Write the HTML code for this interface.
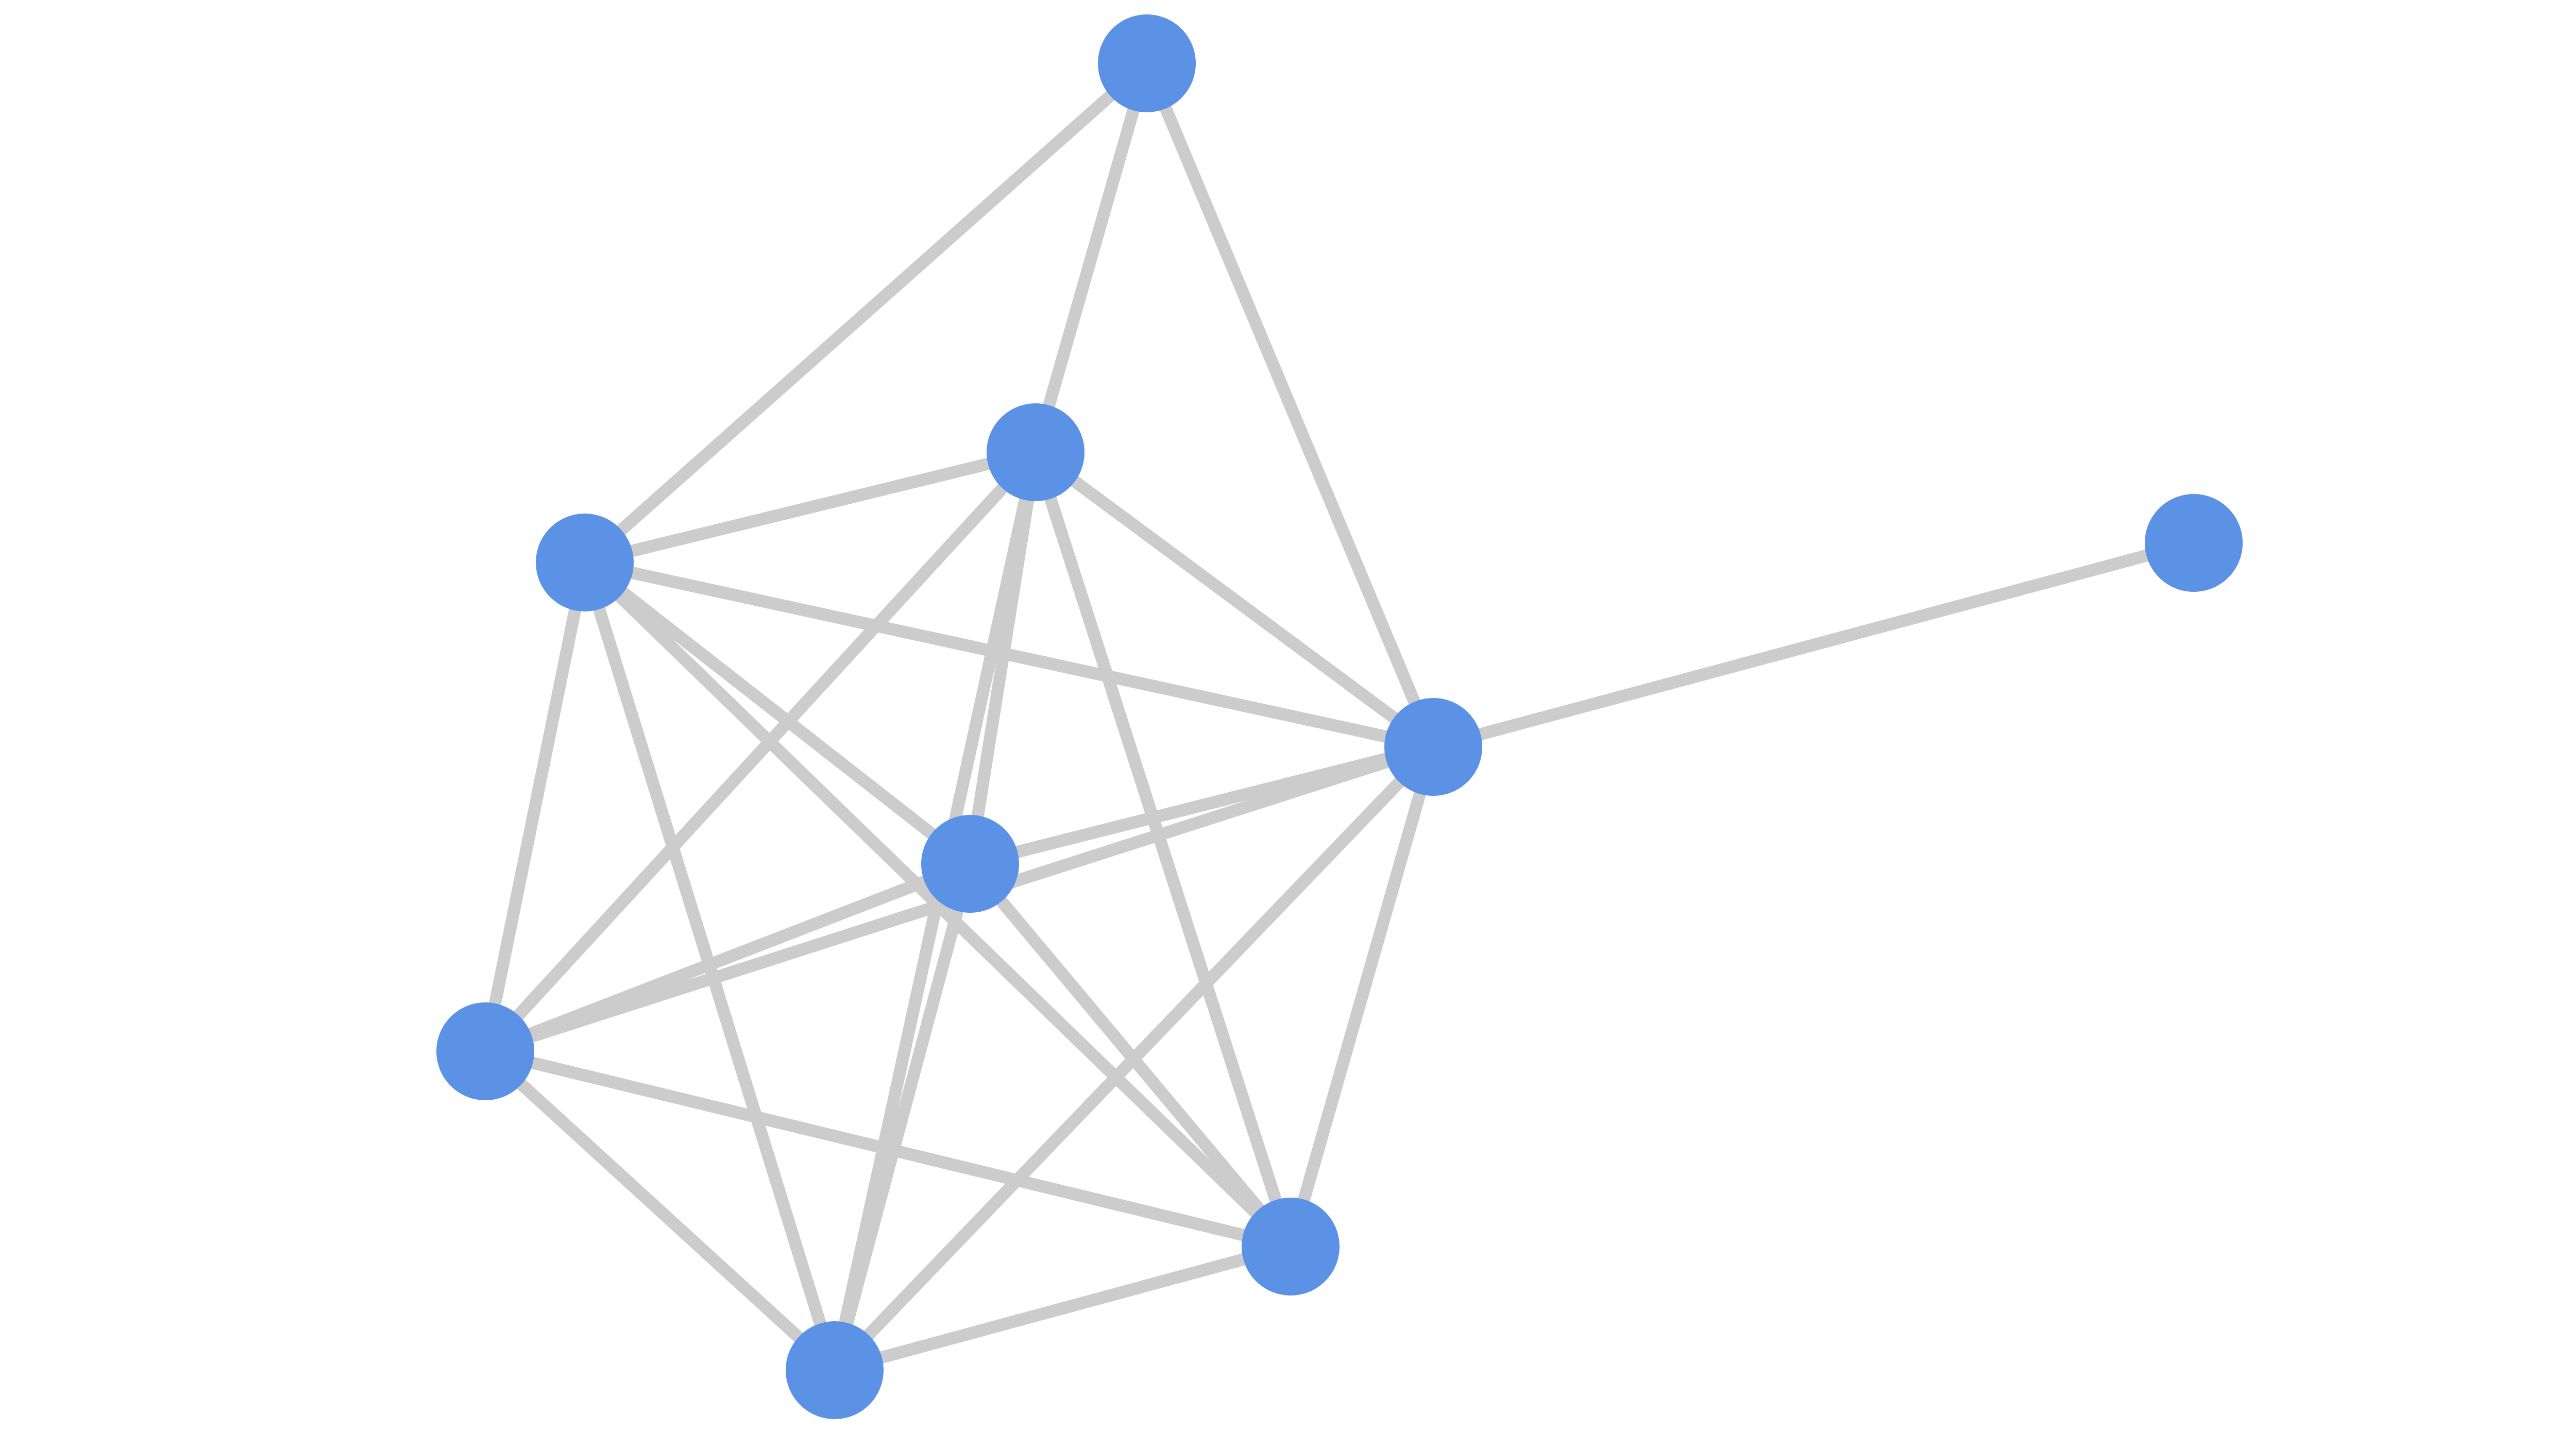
<!DOCTYPE html>
<html><head><style>html,body{margin:0;padding:0;background:#fff;width:5200px;height:2780px;overflow:hidden}</style></head>
<body>
<svg width="5200" height="2780" viewBox="0 0 5200 2780" xmlns="http://www.w3.org/2000/svg">
<g stroke="#cccccc" stroke-width="24" fill="none">
<line x1="2226" y1="123" x2="1135" y2="1092"/>
<line x1="2226" y1="123" x2="2010" y2="878"/>
<line x1="2226" y1="123" x2="2782" y2="1450"/>
<line x1="4258" y1="1054" x2="2782" y2="1450"/>
<line x1="2010" y1="878" x2="1135" y2="1092"/>
<line x1="2010" y1="878" x2="2782" y2="1450"/>
<line x1="2010" y1="878" x2="942" y2="2041"/>
<line x1="2010" y1="878" x2="1883" y2="1677"/>
<line x1="2010" y1="878" x2="1620" y2="2660"/>
<line x1="2010" y1="878" x2="2505" y2="2420"/>
<line x1="1135" y1="1092" x2="2782" y2="1450"/>
<line x1="1135" y1="1092" x2="1883" y2="1677"/>
<line x1="1135" y1="1092" x2="2505" y2="2420"/>
<line x1="1135" y1="1092" x2="942" y2="2041"/>
<line x1="1135" y1="1092" x2="1620" y2="2660"/>
<line x1="2782" y1="1450" x2="1883" y2="1677"/>
<line x1="2782" y1="1450" x2="942" y2="2041"/>
<line x1="2782" y1="1450" x2="2505" y2="2420"/>
<line x1="2782" y1="1450" x2="1620" y2="2660"/>
<line x1="1883" y1="1677" x2="942" y2="2041"/>
<line x1="1883" y1="1677" x2="2505" y2="2420"/>
<line x1="1883" y1="1677" x2="1620" y2="2660"/>
<line x1="942" y1="2041" x2="2505" y2="2420"/>
<line x1="942" y1="2041" x2="1620" y2="2660"/>
<line x1="2505" y1="2420" x2="1620" y2="2660"/>
</g>
<g fill="#5b92e5">
<circle cx="2226" cy="123" r="95"/>
<circle cx="2010" cy="878" r="95"/>
<circle cx="1135" cy="1092" r="95"/>
<circle cx="4258" cy="1054" r="95"/>
<circle cx="2782" cy="1450" r="95"/>
<circle cx="1883" cy="1677" r="95"/>
<circle cx="942" cy="2041" r="95"/>
<circle cx="2505" cy="2420" r="95"/>
<circle cx="1620" cy="2660" r="95"/>
</g>
</svg>
</body></html>
